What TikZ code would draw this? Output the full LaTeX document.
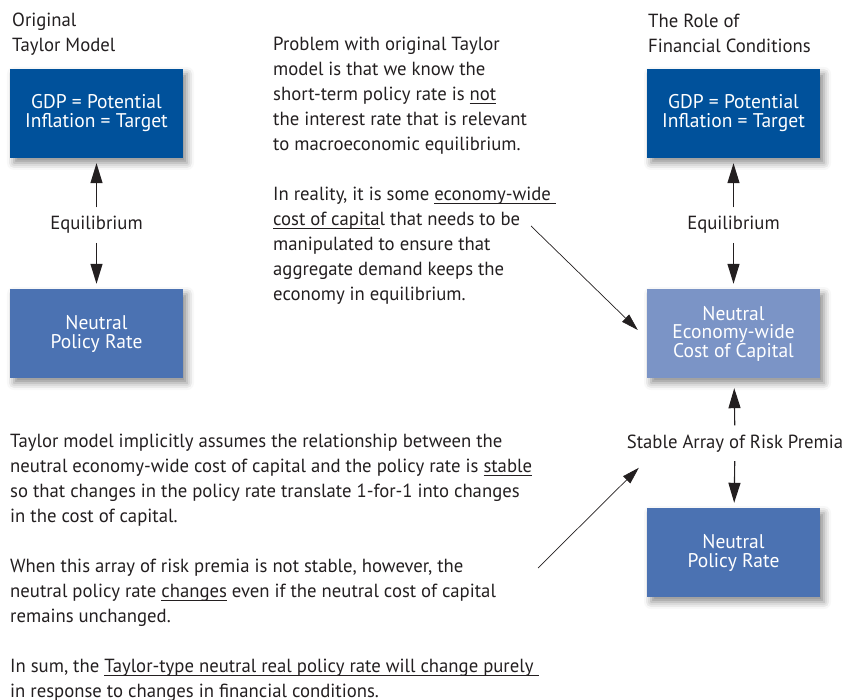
\documentclass[tikz,border=0pt]{standalone}
\usepackage{fontspec}
\setmainfont{PT Sans}[FakeStretch=0.985]
\usepackage{xcolor}
\usetikzlibrary{arrows.meta, shadows.blur, positioning}

\definecolor{hopdam}{RGB}{0,81,155}
\definecolor{hopvua}{RGB}{75,114,178}
\definecolor{hopnhat}{RGB}{123,148,198}
\definecolor{chu}{RGB}{35,31,32}

% gạch chân mảnh, cách đường cơ sở cố định
\newsavebox{\gachbox}
\newcommand{\gach}[1]{\sbox{\gachbox}{#1}\rlap{\rule[-3.4pt]{\wd\gachbox}{0.9pt}}\usebox{\gachbox}}

\begin{document}
\begin{tikzpicture}[x=1pt, y=-1pt, >={Triangle[length=20pt,width=12pt]},
    hop/.style={minimum width=173pt, minimum height=89pt, inner sep=0pt, align=center,
        text=white, font=\fontsize{19.8}{19}\selectfont,
        blur shadow={shadow xshift=4pt, shadow yshift=-5pt, shadow blur radius=7pt, shadow opacity=45}},
    nhan/.style={anchor=base, inner sep=9pt, font=\fontsize{19}{25}\selectfont, text=chu},
    doan/.style={anchor=base west, inner sep=0pt, align=left, font=\fontsize{19}{25}\selectfont, text=chu},
    muiten/.style={->, line width=1.1pt, chu, shorten >=5pt},
    muinho/.style={-{Triangle[length=17pt,width=10pt]}, line width=0.7pt, chu}]

    \useasboundingbox (0,0) rectangle (843,700);

    % 1. Mô hình Taylor gốc (cột trái)
    % (neo base west = đường cơ sở của dòng cuối)
    \node[doan] (tieudeL) at (12,52) {Original\\Taylor Model};
    \node[hop, fill=hopdam] (gdpL) at (96.5,113.5) {GDP = Potential\\Inflation = Target};
    \node[hop, fill=hopvua] (rateL) at (96.5,333.5) {Neutral\\Policy Rate};
    \node[nhan] (eqL) at (96.5,230) {Equilibrium};
    \draw[muiten] (eqL) -- (gdpL);
    \draw[muiten] (eqL) -- (rateL);

    % 2. Vai trò của điều kiện tài chính (cột phải)
    \node[doan] (tieudeR) at (648,53) {The Role of\\Financial Conditions};
    \node[hop, fill=hopdam] (gdpR) at (733.5,113.5) {GDP = Potential\\Inflation = Target};
    \node[hop, fill=hopnhat, font=\fontsize{19.8}{18.5}\selectfont] (capM) at (733.5,333.5)
        {Neutral\\Economy-wide\\Cost of Capital};
    \node[hop, fill=hopvua] (rateR) at (733.5,552.5) {Neutral\\Policy Rate};
    \node[nhan] (eqR) at (733.5,230) {Equilibrium};
    \node[nhan] (riskR) at (735,448) {Stable Array of Risk Premia};
    \draw[muiten] (eqR) -- (gdpR);
    \draw[muiten] (eqR) -- (capM);
    \draw[muiten, shorten >=10pt] (riskR) -- (capM);
    \draw[muiten] (riskR) -- (rateR);

    % 3. Các đoạn giải thích
    \node[doan] (vande) at (273,301) {Problem with original Taylor\\model is that we know the\\short-term policy rate is \gach{not}\\the interest rate that is relevant\\to macroeconomic equilibrium.\\[25pt]In reality, it is some \gach{economy-wide\ }\\\gach{cost of capita}l that needs to be\\manipulated to ensure that\\aggregate demand keeps the\\economy in equilibrium.};
    \node[doan] (giadinh) at (10,697) {Taylor model implicitly assumes the relationship between the\\neutral economy-wide cost of capital and the policy rate is \gach{stable}\\so that changes in the policy rate translate 1-for-1 into changes\\in the cost of capital.\\[25pt]When this array of risk premia is not stable, however, the\\neutral policy rate \gach{changes} even if the neutral cost of capital\\remains unchanged.\\[25pt]In sum, the \gach{Taylor-type neutral real policy rate will change purely\ }\\in response to changes in financial conditions.};

    % 4. Mũi tên chéo từ các đoạn văn
    \coordinate (goc1) at (531,226);
    \coordinate (goc2) at (538,568);
    \draw[muinho] (goc1) -- ([shift={(-9,-3.5)}]capM.west);
    \draw[muinho] (goc2) -- ([shift={(-8,-40)}]rateR.north west);

\end{tikzpicture}
\end{document}
